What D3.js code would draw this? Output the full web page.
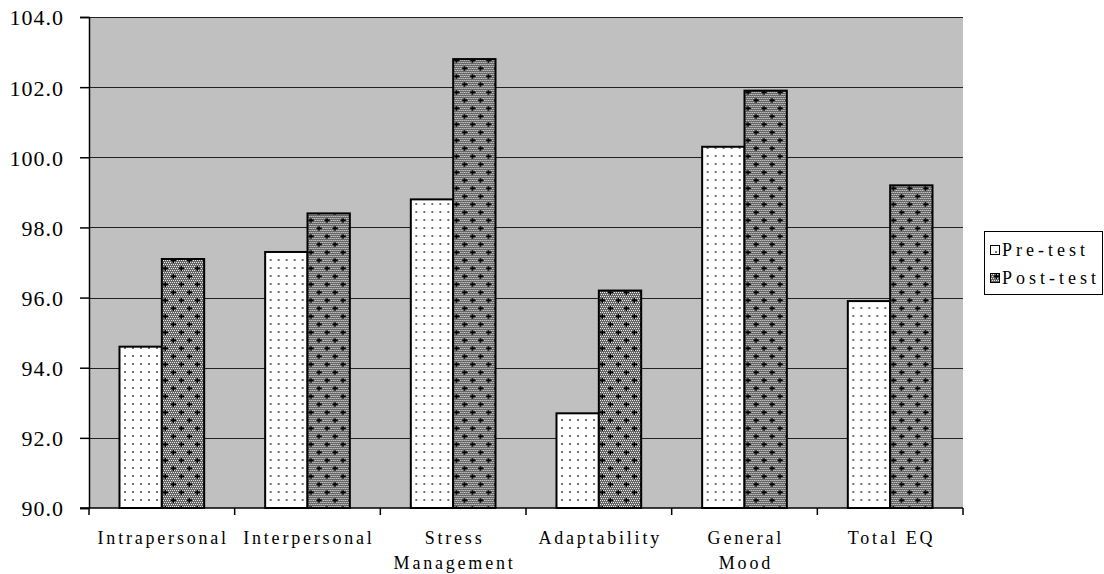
<!DOCTYPE html>
<html>
<head>
<meta charset="utf-8">
<script src="https://cdn.jsdelivr.net/npm/d3@7"></script>
<style>
  html, body { margin: 0; padding: 0; background: #fff; }
  svg { display: block; }
</style>
</head>
<body>
<svg id="chart" width="1104" height="574"></svg>
<script>
// ---- data ----
const categories = ["Intrapersonal", "Interpersonal", "Stress Management", "Adaptability", "General Mood", "Total EQ"];
const categoryLabels = [["Intrapersonal"], ["Interpersonal"], ["Stress", "Management"], ["Adaptability"], ["General", "Mood"], ["Total EQ"]];
const seriesNames = ["Pre-test", "Post-test"];
const preTest  = [94.6, 97.3, 98.8, 92.7, 100.3, 95.9];
const postTest = [97.1, 98.4, 102.8, 96.2, 101.9, 99.2];
const yTicks = [90, 92, 94, 96, 98, 100, 102, 104];

// ---- layout ----
const FONT = '"Liberation Serif", "Times New Roman", serif';
const plot = { left: 89, right: 963, top: 17, bottom: 508 };
const svg = d3.select("#chart");

const x = d3.scaleBand().domain(categories).range([plot.left, plot.right]).paddingInner(0).paddingOuter(0);
const xs = d3.scaleBand().domain(seriesNames).range([0, x.bandwidth()]).paddingInner(0).paddingOuter(0.72);
const y = d3.scaleLinear().domain([90, 104]).range([plot.bottom, plot.top]);

// ---- patterns ----
const defs = svg.append("defs");
const pPre = defs.append("pattern").attr("id", "patPre").attr("patternUnits", "userSpaceOnUse")
  .attr("width", 8).attr("height", 8);
pPre.append("rect").attr("width", 8).attr("height", 8).attr("fill", "#fff");
pPre.append("rect").attr("x", 3).attr("y", 3).attr("width", 2).attr("height", 2).attr("fill", "#888");
pPre.append("rect").attr("x", 3.5).attr("y", 3.5).attr("width", 1).attr("height", 1).attr("fill", "#333");

const pPost = defs.append("pattern").attr("id", "patPost").attr("patternUnits", "userSpaceOnUse")
  .attr("width", 16).attr("height", 16);
pPost.append("rect").attr("width", 16).attr("height", 16).attr("fill", "#666");
for (let i = 0; i < 16; i += 2) {
  for (let j = 0; j < 16; j += 2) {
    pPost.append("rect").attr("x", i + ((j / 2) % 2)).attr("y", j).attr("width", 1).attr("height", 1).attr("fill", "#e8e8e8");
  }
}
[[4, 4], [12, 12]].forEach(([cx, cy]) => {
  pPost.append("rect").attr("x", cx - 2).attr("y", cy - 0.5).attr("width", 5).attr("height", 1.6).attr("fill", "#000");
  pPost.append("rect").attr("x", cx - 0.5).attr("y", cy - 2).attr("width", 1.6).attr("height", 5).attr("fill", "#000");
});
const fills = { "Pre-test": "url(#patPre)", "Post-test": "url(#patPost)" };

// ---- plot background ----
svg.append("rect").attr("x", plot.left).attr("y", plot.top)
  .attr("width", plot.right - plot.left).attr("height", plot.bottom - plot.top)
  .attr("fill", "#c0c0c0");

// gridlines
svg.append("g").selectAll("line").data(yTicks.filter(t => t > 90)).join("line")
  .attr("x1", plot.left).attr("x2", plot.right)
  .attr("y1", d => Math.round(y(d)) + 0.5).attr("y2", d => Math.round(y(d)) + 0.5)
  .attr("stroke", "#222").attr("stroke-width", 1.2);

// ---- bars ----
const rows = categories.map((c, i) => ({ cat: c, vals: [{ s: "Pre-test", v: preTest[i] }, { s: "Post-test", v: postTest[i] }] }));
const groups = svg.append("g").selectAll("g").data(rows).join("g")
  .attr("transform", d => `translate(${x(d.cat)},0)`);
groups.selectAll("rect").data(d => d.vals).join("rect")
  .attr("x", d => xs(d.s))
  .attr("y", d => y(d.v))
  .attr("width", xs.bandwidth())
  .attr("height", d => y(90) - y(d.v))
  .attr("fill", d => fills[d.s])
  .attr("stroke", "#000").attr("stroke-width", 2);

// ---- y axis ----
const yAxis = d3.axisLeft(y).tickValues(yTicks).tickSize(9).tickPadding(16).tickFormat(d3.format(".1f"));
const gy = svg.append("g").attr("transform", `translate(${plot.left},0)`).call(yAxis);
gy.select(".domain").attr("stroke", "#000").attr("stroke-width", 1.5);
gy.selectAll(".tick line").attr("stroke", "#000").attr("stroke-width", 1.5);
gy.selectAll(".tick text")
  .style("font-family", FONT).style("font-size", "22px").style("letter-spacing", "1px")
  .attr("fill", "#000").attr("dy", "0.36em");

// ---- x axis ----
svg.append("line").attr("x1", plot.left - 9).attr("x2", plot.right)
  .attr("y1", plot.bottom).attr("y2", plot.bottom).attr("stroke", "#000").attr("stroke-width", 1.5);
const boundaries = categories.map(c => x(c)).concat([plot.right]);
svg.append("g").selectAll("line").data(boundaries).join("line")
  .attr("x1", d => d).attr("x2", d => d)
  .attr("y1", plot.bottom).attr("y2", plot.bottom + 7)
  .attr("stroke", "#000").attr("stroke-width", 1.5);

const LS = 2.8;
const xl = svg.append("g").selectAll("text").data(categories).join("text")
  .attr("y", 544)
  .attr("text-anchor", "middle")
  .style("font-family", FONT).style("font-size", "18px").style("letter-spacing", LS + "px")
  .attr("fill", "#000");
xl.each(function(d, i) {
  const t = d3.select(this);
  categoryLabels[i].forEach((line, k) => {
    t.append("tspan").attr("x", x(d) + x.bandwidth() / 2 + LS / 2).attr("dy", k === 0 ? 0 : 25).text(line);
  });
});

// ---- legend ----
const lg = svg.append("g");
lg.append("rect").attr("x", 984.5).attr("y", 231.5).attr("width", 118).attr("height", 63)
  .attr("fill", "#fff").attr("stroke", "#000").attr("stroke-width", 1);
seriesNames.forEach((s, i) => {
  const yy = 256 + i * 28;
  lg.append("rect").attr("x", 990.5).attr("y", yy - 10.5).attr("width", 9).attr("height", 9)
    .attr("fill", fills[s]).attr("stroke", "#000").attr("stroke-width", 1);
  lg.append("text").attr("x", 1002).attr("y", yy)
    .style("font-family", FONT).style("font-size", "18px").style("letter-spacing", "4px")
    .attr("fill", "#000").text(s);
});
</script>
</body>
</html>
